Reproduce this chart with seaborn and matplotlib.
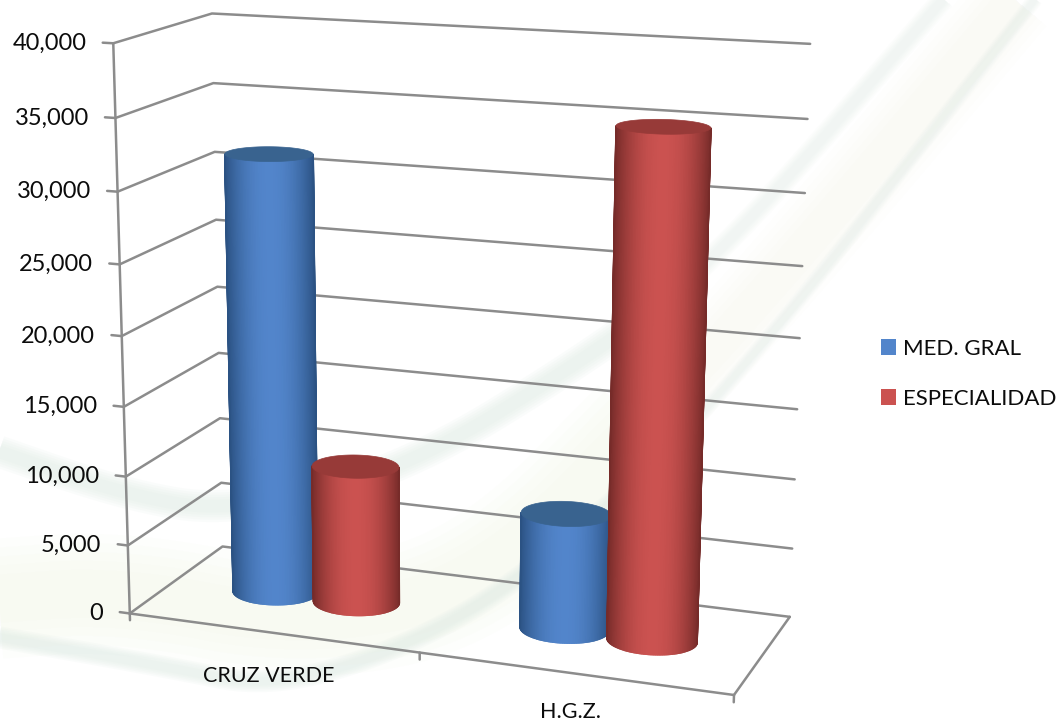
import numpy as np
import pandas as pd
import matplotlib
matplotlib.use("Agg")
import matplotlib.pyplot as plt
from matplotlib.colors import to_rgb
from matplotlib.patches import Patch
import seaborn as sns

# data
categories = ["CRUZ VERDE", "H.G.Z."]
series_names = ["MED. GRAL", "ESPECIALIDAD"]
med_gral = [31700, 8300]
especialidad = [10000, 35300]
y_ticks = [0, 5000, 10000, 15000, 20000, 25000, 30000, 35000, 40000]
y_max = 40000

sns.set_theme(style="white")
plt.rcParams["font.family"] = ["Lato", "DejaVu Sans"]

blue = {"edge": "#2b5283", "mid": "#5285cb", "top": "#39638f"}
red = {"edge": "#762b29", "mid": "#cb5250", "top": "#973a38"}
grid_col = "#8c8c8c"

# chart box seen in perspective: (across, depth, height share) -> picture pixel
box_world = [(0, 0, 0), (0, 0, .125), (0, 0, .25), (0, 0, .375), (0, 0, .5), (0, 0, .625), (0, 0, .75), (0, 0, .875), (0, 0, 1),
             (1, 1, 0), (1, 1, .125), (1, 1, .25), (1, 1, .375), (1, 1, .5), (1, 1, .625), (1, 1, .75), (1, 1, .875), (1, 1, 1),
             (0, 1, 0), (0, 1, .125), (0, 1, .25), (0, 1, .75), (0, 1, .875), (0, 1, 1),
             (1, 0, 0), (.5, 0, 0)]
box_pixel = [(130, 613), (128, 545), (126, 477), (124, 407), (122, 336), (120.5, 264), (118, 192), (115, 117.5), (112, 43),
             (790, 616), (793, 548), (795, 479), (797, 410), (800, 338), (802, 266), (805, 193), (807, 119), (810, 44),
             (222, 546), (220, 483), (220, 419), (215, 153), (213, 83), (213, 13),
             (733, 696), (420, 653)]


def fit_camera(world, pixel):
    rows = []
    for (a, b, c), (x, y) in zip(world, pixel):
        x, y = x / 1000, y / 1000
        rows.append([a, b, c, 1, 0, 0, 0, 0, -x * a, -x * b, -x * c, -x])
        rows.append([0, 0, 0, 0, a, b, c, 1, -y * a, -y * b, -y * c, -y])
    return np.linalg.svd(np.array(rows))[2][-1].reshape(3, 4)


cam = fit_camera(box_world, box_pixel)


def project(u, w, value):
    u, w, z = np.broadcast_arrays(u, w, np.asarray(value) / y_max)
    p = cam @ np.vstack([u.ravel(), w.ravel(), z.ravel(), np.ones(u.size)])
    return (p[0] / p[2] * 1000).reshape(u.shape), (p[1] / p[2] * 1000).reshape(u.shape)


def chaikin(points, n=4):
    pts = np.array(points, float)
    for _ in range(n):
        q = .75 * pts[:-1] + .25 * pts[1:]
        r = .25 * pts[:-1] + .75 * pts[1:]
        mid = np.empty((2 * len(q), 2))
        mid[0::2] = q
        mid[1::2] = r
        pts = np.vstack([pts[0], mid, pts[-1]])
    return pts


def soft_band(ax, points, color, width, alpha=.12, split_x=650):
    pts = chaikin(points)
    left = pts[pts[:, 0] <= split_x]
    right = pts[pts[:, 0] >= split_x - 5]
    for f in [1.0, .85, .7, .55, .4]:
        ax.plot(left[:, 0], left[:, 1], color=color, lw=width * f * .72, alpha=alpha,
                solid_capstyle="butt", zorder=0.5)
        ax.plot(right[:, 0], right[:, 1], color=color, lw=width * f * .72 * .7, alpha=alpha * .7,
                solid_capstyle="butt", zorder=0.5)


def cylinder(ax, u0, value, col, zorder):
    w0, ru, rw = .5, .071, .175
    ang = np.linspace(np.pi * .9, np.pi * 2.2, 721)
    xb, yb = project(u0 + ru * np.cos(ang), w0 + rw * np.sin(ang), 0)
    t = np.linspace(ang[np.argmin(xb)], ang[np.argmax(xb)], 81)
    xb, yb = project(u0 + ru * np.cos(t), w0 + rw * np.sin(t), 0)
    xt, yt = project(u0 + ru * np.cos(t), w0 + rw * np.sin(t), value)
    tc = (t[:-1] + t[1:]) / 2
    pos = np.abs((tc - tc.mean()) / (tc[-1] - tc.mean()))
    # brightness falls off with position across the visible face
    shade = 1 - np.sin(pos * np.pi / 2) ** 2.0
    edge, mid = np.array(to_rgb(col["edge"])), np.array(to_rgb(col["mid"]))
    # paint from the sides in to the middle, wide edges hide the seams
    for i in np.argsort(-pos):
        c = edge * (1 - shade[i]) + mid * shade[i]
        ax.fill([xb[i], xb[i + 1], xt[i + 1], xt[i]], [yb[i], yb[i + 1], yt[i + 1], yt[i]],
                color=c, lw=1.2, zorder=zorder)
    # clean straight silhouette
    ax.plot([xb[0], xt[0]], [yb[0], yt[0]], color=col["edge"], lw=1, zorder=zorder + .05)
    ax.plot([xb[-1], xt[-1]], [yb[-1], yt[-1]], color=col["edge"], lw=1, zorder=zorder + .05)
    full = np.linspace(0, 2 * np.pi, 121)
    xe, ye = project(u0 + ru * np.cos(full), w0 + rw * np.sin(full), value)
    ax.fill(xe, ye, color=col["top"], lw=.5, zorder=zorder + .1)


fig = plt.figure(figsize=(10.6, 7.22), dpi=100)
ax = fig.add_axes([0, 0, 1, 1])

# slide background swooshes
soft_band(ax, [(-20, 600), (120, 590), (300, 625), (480, 590), (660, 410), (820, 230), (1030, -20)], "#f3f8e8", 120, .12)
soft_band(ax, [(-20, 445), (125, 495), (230, 512), (400, 473), (600, 350), (717, 260), (960, -20)], "#dbe9e2", 32)
soft_band(ax, [(-20, 634), (167, 667), (270, 688), (400, 650), (523, 580), (710, 417), (1050, -20)], "#dbe9e2", 22)

# gridlines: side wall and back wall, then the axis frame
rows = []
for v in y_ticks:
    for i, (u, w) in enumerate([(0, 0), (0, 1), (1, 1)]):
        x, y = project(u, w, v)
        rows.append({"line": f"g{v}", "order": i, "x": float(x), "y": float(y)})
frame = {"left": [(0, 0, 0), (0, 0, y_max)], "front": [(0, 0, 0), (1, 0, 0)], "right": [(1, 0, 0), (1, 1, 0)]}
for v in y_ticks:
    frame[f"t{v}"] = [(0, 0, v), (-.018, 0, v)]
for u in [0, .5, 1]:
    frame[f"b{u}"] = [(u, 0, 0), (u, 0, -500)]
for name, seg in frame.items():
    for i, (u, w, v) in enumerate(seg):
        x, y = project(u, w, v)
        rows.append({"line": name, "order": i, "x": float(x), "y": float(y)})
grid_df = pd.DataFrame(rows)
sns.lineplot(data=grid_df, x="x", y="y", units="line", estimator=None, sort=False,
             color=grid_col, lw=1.8, ax=ax, zorder=2, legend=False)

# cylinders, left to right so the later one overlaps
offs = [-.072, .072]
z = 3
for c in range(len(categories)):
    uc = .25 + .5 * c
    cylinder(ax, uc + offs[0], med_gral[c], blue, z)
    cylinder(ax, uc + offs[1], especialidad[c], red, z + 1)
    z += 2

for v in y_ticks:
    x, y = project(0, 0, v)
    ax.annotate(f"{v:,}", (float(x), float(y)), xytext=(-19, 0), textcoords="offset points",
                ha="right", va="center", fontsize=17, color="#0c0c0c", zorder=9)
label_drop = [31.5, 27.5]
for c, name in enumerate(categories):
    x, y = project(.25 + .5 * c, 0, 0)
    ax.annotate(name, (float(x), float(y)), xytext=(-2, -label_drop[c]), textcoords="offset points",
                ha="center", va="center", fontsize=15.5, color="#0c0c0c", zorder=9)

handles = [Patch(color=blue["mid"], lw=0), Patch(color=red["mid"], lw=0)]
ax.legend(handles, series_names, loc="upper left", bbox_to_anchor=(881, 339), bbox_transform=ax.transData,
          frameon=False, fontsize=16, handlelength=.675, handleheight=.7, handletextpad=.33,
          labelspacing=1.33, borderpad=0, borderaxespad=0, labelcolor="#0c0c0c")

ax.set_xlim(0, 1060)
ax.set_ylim(722, 0)
ax.axis("off")
fig.savefig("out.png", dpi=100)
